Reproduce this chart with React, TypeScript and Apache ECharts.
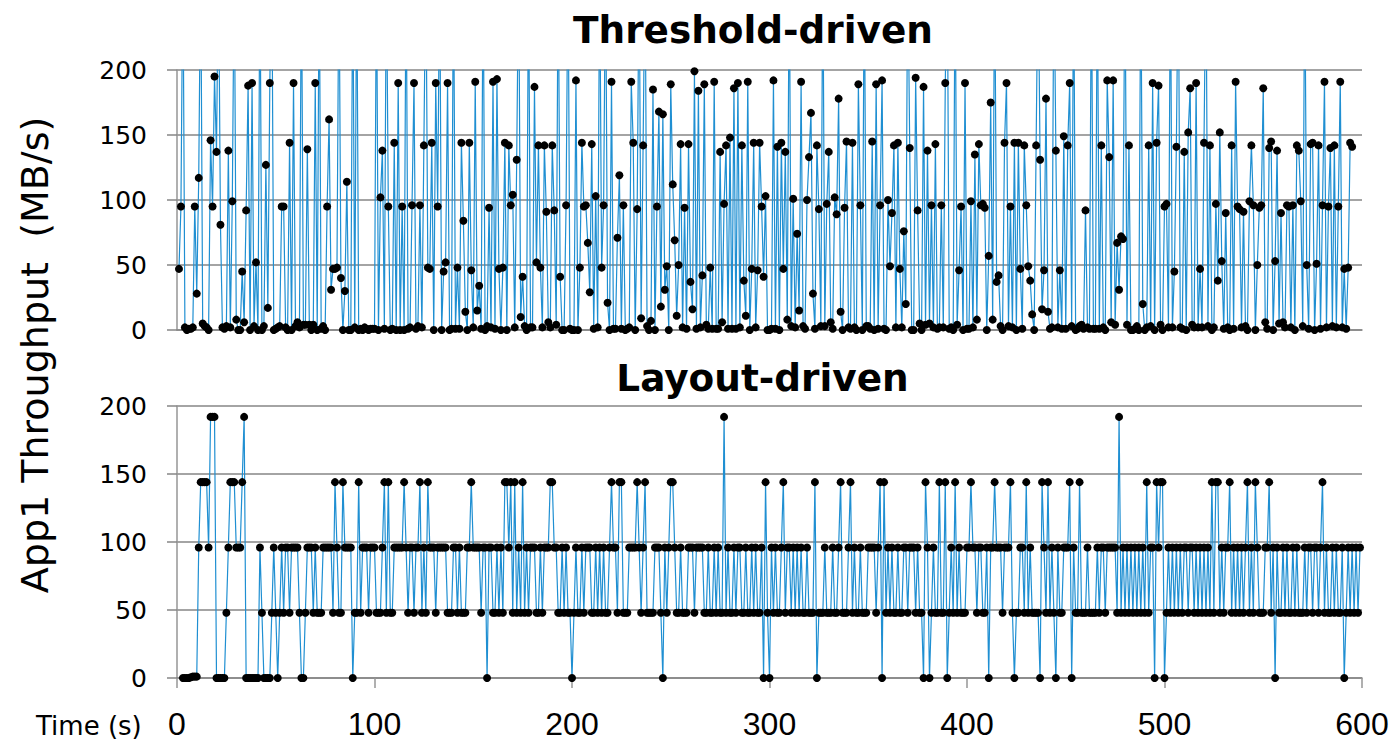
import React, { useEffect, useRef } from "react";
import * as echarts from "echarts";

const topTitle = "Threshold-driven";
const bottomTitle = "Layout-driven";
const yAxisTitle = "App1 Throughput  (MB/s)";
const xAxisTitle = "Time (s)";

const thresholdFirstSecond = 1;
const thresholdValues = [
  47,95,288,2,0,1,1,2,95,28,117,288,5,3,2,0,146,95,195,137,
  288,81,2,1,3,138,2,99,288,8,0,0,45,6,92,188,0,190,3,52,
  0,288,0,3,127,17,190,288,0,1,2,3,95,95,2,0,144,0,190,3,
  6,2,288,4,4,139,4,0,4,190,0,288,1,3,0,95,162,31,47,47,
  48,288,40,0,30,114,0,0,288,2,288,0,1,0,2,1,0,1,1,1,
  288,0,102,138,1,288,95,0,1,144,0,190,0,95,0,288,1,2,96,190,
  1,3,96,2,142,288,48,47,144,0,190,95,288,0,45,52,190,0,1,288,
  1,48,1,144,84,14,0,144,46,2,191,15,34,1,288,0,3,94,2,191,
  1,193,47,0,48,144,0,142,96,104,2,131,288,10,41,3,0,288,2,2,
  187,52,142,48,2,142,91,6,2,142,92,4,288,41,0,0,96,288,1,0,
  0,192,0,48,144,95,96,67,29,143,1,103,2,288,48,96,288,21,0,191,
  1,1,71,119,1,96,0,1,2,191,144,0,93,288,9,142,288,3,0,7,
  185,0,95,168,18,166,31,49,0,189,112,69,11,50,143,2,94,1,143,37,
  16,199,1,184,2,42,189,4,1,48,1,191,1,1,137,6,97,142,1,148,
  1,186,1,190,2,142,38,11,191,0,47,144,2,46,144,95,41,103,0,0,
  1,192,1,141,0,144,47,137,8,288,3,101,2,74,15,191,3,1,100,133,
  167,28,1,142,93,3,288,3,97,137,6,1,102,89,178,14,0,94,145,2,
  1,144,2,0,189,96,0,288,3,3,1,145,0,189,1,96,192,1,0,100,
  49,90,142,2,144,47,2,76,20,288,140,0,0,194,92,5,0,187,4,138,
  5,96,2,143,1,2,96,2,190,288,1,2,0,288,4,46,95,0,190,1,
  1,99,2,135,8,143,96,97,94,0,57,175,8,288,37,42,3,0,144,190,
  3,95,2,144,0,144,47,1,142,96,49,38,12,0,142,288,131,16,46,178,
  14,1,2,288,138,2,46,1,149,1,142,190,3,288,0,1,3,4,1,92,
  2,1,288,1,1,288,1,142,2,0,192,133,6,192,4,67,31,72,70,288,
  4,142,0,0,1,3,0,288,20,0,2,142,3,190,0,144,188,4,0,95,
  97,2,288,2,45,141,288,2,1,137,0,152,186,4,2,190,2,47,2,144,
  288,3,142,0,2,97,38,152,53,1,90,2,0,142,1,191,95,93,2,91,
  3,0,99,142,96,0,50,94,96,186,6,1,140,145,0,53,138,5,90,6,
  2,96,95,2,96,0,142,138,99,3,288,50,1,143,144,0,51,142,1,96,
  191,2,95,140,3,142,2,95,191,2,47,1,48,144,141,
];

const layoutFirstSecond = 3;
const layoutValues = [
  0,0,0,0,0.5,1,1,1,96,144,144,144,144,96,192,192,192,0,0,0,
  0,0,48,96,144,144,144,96,96,96,144,192,0,0,0,0,0,0,0,96,
  48,0,0,0,0,48,96,48,0,48,96,48,96,96,48,96,96,96,96,48,
  0,0,48,96,96,96,48,96,48,48,48,96,96,96,96,96,48,144,96,48,
  48,144,96,96,96,96,0,48,48,144,48,96,96,96,48,96,96,96,48,48,
  48,96,144,48,144,48,48,96,96,96,96,96,144,96,48,96,96,48,96,96,
  144,48,96,48,144,96,96,96,48,96,96,96,96,96,48,48,48,96,96,48,
  96,48,48,48,96,96,144,96,96,96,96,48,96,96,0,96,96,48,48,96,
  48,96,48,144,144,96,144,48,144,48,96,48,144,48,96,48,96,96,96,48,
  48,96,48,96,96,96,144,144,96,96,48,48,96,48,96,48,48,0,48,96,
  48,48,96,48,96,96,96,48,48,96,48,96,48,96,48,48,96,144,96,96,
  48,144,144,48,48,48,96,96,96,96,144,96,48,96,144,48,48,48,48,96,
  96,96,48,0,96,48,96,144,144,96,48,48,96,48,48,48,96,96,96,48,
  96,96,96,96,48,48,96,48,48,96,48,96,48,48,192,48,96,48,48,96,
  48,96,96,48,48,96,48,48,96,48,96,48,48,96,0,144,48,0,96,48,
  96,48,48,96,144,48,96,96,48,96,48,96,48,96,48,48,96,48,48,48,
  144,0,48,48,48,96,48,48,48,96,48,48,96,144,48,48,48,96,144,48,
  96,48,48,96,48,48,48,96,96,96,96,48,96,144,0,144,48,96,48,96,
  48,48,96,48,48,96,96,48,96,96,96,48,96,48,48,0,144,96,0,48,
  96,48,48,144,48,48,144,0,48,96,48,144,48,96,48,48,48,96,96,144,
  96,96,48,96,96,48,48,96,0,96,96,144,96,96,96,48,96,96,96,144,
  48,0,48,48,96,96,48,144,48,96,48,48,48,48,0,144,96,48,144,48,
  96,48,0,96,48,48,96,96,96,144,0,96,48,48,144,48,48,48,96,48,
  48,48,48,96,48,96,96,48,96,96,96,96,96,48,192,48,96,48,96,48,
  96,48,96,48,96,48,96,48,144,48,96,96,0,144,96,144,144,0,48,96,
  48,96,48,96,48,96,48,96,96,48,96,96,48,96,48,96,48,96,48,96,48,144,48,
  144,144,48,96,48,96,96,144,48,96,48,96,48,96,48,96,144,48,96,48,
  144,96,48,48,48,96,96,144,48,96,0,96,48,48,96,48,96,48,48,96,
  48,96,48,48,48,96,48,96,96,48,96,96,48,96,144,48,96,48,48,96,
  48,96,48,48,96,0,48,96,48,96,48,96,48,96,
];

const yTicks = { min: 0, max: 200, interval: 50 };
const xTicks = { min: 0, max: 600, interval: 100 };

export default function App() {
  const ref = useRef<HTMLDivElement>(null);
  useEffect(() => {
    if (!ref.current) return;
    const chart = echarts.init(ref.current, undefined, { renderer: "svg" });
    const gridColor = "#868686";
    const font = "'DejaVu Sans'";
    const yAxisBase = {
      type: "value",
      ...yTicks,
      axisLine: { show: true, lineStyle: { color: "#969696", width: 1.5 } },
      axisTick: { show: true, length: 10, lineStyle: { color: gridColor, width: 1.5 } },
      splitLine: { show: true, lineStyle: { color: gridColor, width: 1.5 } },
      axisLabel: { color: "#000", fontSize: 25, fontFamily: font, margin: 30 },
    };
    const lineBase = {
      type: "line",
      showSymbol: true,
      showAllSymbol: true,
      symbol: "circle",
      symbolSize: 8,
      lineStyle: { color: "#1f8fd2", width: 1.2 },
      itemStyle: { color: "#000" },
      emphasis: { disabled: true },
      silent: true,
      clip: true,
    };
    chart.setOption({
      animation: false,
      backgroundColor: "#fff",
      title: [
        {
          text: topTitle,
          left: 748,
          top: 6,
          textAlign: "center",
          textStyle: { fontFamily: font, fontWeight: "bold", fontSize: 37.4, color: "#000" },
        },
        {
          text: bottomTitle,
          left: 757.5,
          top: 354,
          textAlign: "center",
          textStyle: { fontFamily: font, fontWeight: "bold", fontSize: 37.4, color: "#000" },
        },
      ],
      graphic: [
        {
          type: "text",
          x: 35,
          y: 355,
          rotation: Math.PI / 2,
          style: {
            text: yAxisTitle,
            fontFamily: font,
            fontSize: 38,
            fill: "#000",
            textAlign: "center",
            textVerticalAlign: "middle",
          },
        },
        {
          type: "text",
          x: 36,
          y: 726,
          style: {
            text: xAxisTitle,
            fontFamily: font,
            fontSize: 26,
            fill: "#000",
            textVerticalAlign: "middle",
          },
        },
      ],
      grid: [
        { left: 177, right: 31, top: 70, height: 260, containLabel: false },
        { left: 177, right: 31, top: 406, height: 272, containLabel: false },
      ],
      xAxis: [
        {
          type: "value",
          gridIndex: 0,
          ...xTicks,
          axisLine: { show: true, lineStyle: { color: gridColor, width: 1.5 } },
          axisTick: { show: false },
          axisLabel: { show: false },
          splitLine: { show: false },
        },
        {
          type: "value",
          gridIndex: 1,
          ...xTicks,
          axisLine: { show: true, lineStyle: { color: gridColor, width: 1.5 } },
          axisTick: { show: true, length: 10, lineStyle: { color: "#969696", width: 1.5 } },
          axisLabel: { color: "#000", fontSize: 32, fontFamily: "'Liberation Sans'", margin: 30 },
          splitLine: { show: false },
        },
      ],
      yAxis: [
        { ...yAxisBase, gridIndex: 0 },
        { ...yAxisBase, gridIndex: 1 },
      ],
      series: [
        {
          ...lineBase,
          name: topTitle,
          xAxisIndex: 0,
          yAxisIndex: 0,
          data: thresholdValues.map((v, i) => [thresholdFirstSecond + i, v]),
        },
        {
          ...lineBase,
          name: bottomTitle,
          xAxisIndex: 1,
          yAxisIndex: 1,
          data: layoutValues.map((v, i) => [layoutFirstSecond + i, v]),
        },
      ],
    });
    return () => chart.dispose();
  }, []);
  return (
    <div
      ref={ref}
      style={{ position: "fixed", left: 0, top: 0, width: 1393, height: 743, background: "#fff" }}
    />
  );
}
